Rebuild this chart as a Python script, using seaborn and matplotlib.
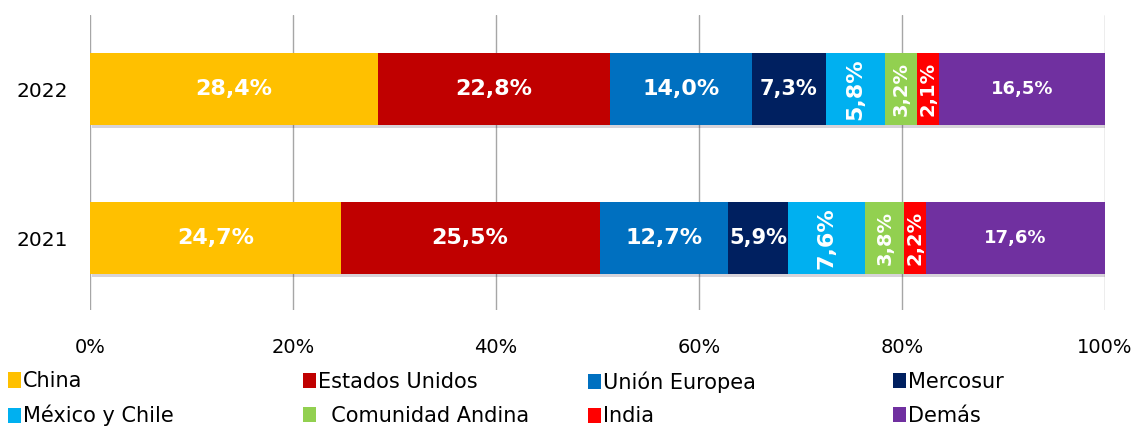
import matplotlib
matplotlib.use("Agg")
import matplotlib.pyplot as plt
import matplotlib.patheffects as pe
from matplotlib.patches import Patch
import seaborn as sns
import pandas as pd
import numpy as np

years = ["2022", "2021"]
partners = ["China", "Estados Unidos", "Unión Europea", "Mercosur",
            "México y Chile", "Comunidad Andina", "India", "Demás"]
share_2022 = [28.4, 22.8, 14.0, 7.3, 5.8, 3.2, 2.1, 16.5]
share_2021 = [24.7, 25.5, 12.7, 5.9, 7.6, 3.8, 2.2, 17.6]
colors = ["#FFC000", "#C00000", "#0070C0", "#002060",
          "#00B0F0", "#92D050", "#FF0000", "#7030A0"]
x_ticks = [0, 20, 40, 60, 80, 100]

# label styling per partner (vertical text for the thin segments)
vertical = {"México y Chile", "Comunidad Andina", "India"}
label_size = {"Mercosur": 15, "Comunidad Andina": 14, "India": 14, "Demás": 13}

rows = []
for year, shares in zip(years, [share_2022, share_2021]):
    cum = np.cumsum(shares)
    for p, s, c in zip(partners, shares, cum):
        rows.append({"year": year, "partner": p, "share": s, "cum": c})
df = pd.DataFrame(rows)

sns.set_theme(style="white")
plt.rcParams["font.family"] = ["DejaVu Sans"]

fig = plt.figure(figsize=(11.35, 4.28), dpi=100)
ax = fig.add_axes([90 / 1135, 1 - 310 / 428, 1015 / 1135, 295 / 428])

# stacked bars: draw cumulative totals from longest to shortest
for i in range(len(partners) - 1, -1, -1):
    sub = df[df["partner"] == partners[i]]
    sns.barplot(data=sub, x="cum", y="year", order=years, color=colors[i],
                saturation=1, width=0.48, orient="h", errorbar=None, ax=ax,
                linewidth=0, edgecolor="none", zorder=3)
    if i == len(partners) - 1:
        for bar in ax.patches:
            bar.set_path_effects([pe.SimplePatchShadow(offset=(1.5, -2.5), alpha=0.18),
                                  pe.Normal()])

for _, r in df.iterrows():
    yi = years.index(r["year"])
    xc = r["cum"] - r["share"] / 2
    txt = f"{r['share']:.1f}%".replace(".", ",")
    ax.text(xc, yi, txt, ha="center", va="center", color="white",
            fontweight="bold", fontsize=label_size.get(r["partner"], 16),
            rotation=90 if r["partner"] in vertical else 0, zorder=5)

ax.set_xlim(0, 100)
ax.set_ylim(1.483, -0.497)
ax.set_xticks(x_ticks)
ax.set_xticklabels([f"{t}%" for t in x_ticks], fontsize=14, color="black")
ax.tick_params(axis="x", length=0, pad=20)
ax.tick_params(axis="y", length=0, pad=16, labelsize=14.5, labelcolor="black")
ax.set_xlabel("")
ax.set_ylabel("")
ax.xaxis.grid(True, color="#A6A6A6", linewidth=1, zorder=0)
ax.yaxis.grid(False)
for s in ax.spines.values():
    s.set_visible(False)

# legend: 4 columns, 2 rows, row-wise order
legend_labels = partners[:]
legend_labels[5] = "  Comunidad Andina"
col_x = [8 / 1135, 303 / 1135, 588 / 1135, 893 / 1135]
for j in range(4):
    idx = [j, j + 4]
    handles = [Patch(facecolor=colors[k], edgecolor="none") for k in idx]
    fig.legend(handles, [legend_labels[k] for k in idx], loc="center left",
               bbox_to_anchor=(col_x[j], 0.068), frameon=False, fontsize=15,
               handlelength=0.6, handleheight=0.75, handletextpad=0.12,
               labelspacing=0.65, borderpad=0, borderaxespad=0,
               labelcolor="black")

fig.savefig("out.png", dpi=100)
